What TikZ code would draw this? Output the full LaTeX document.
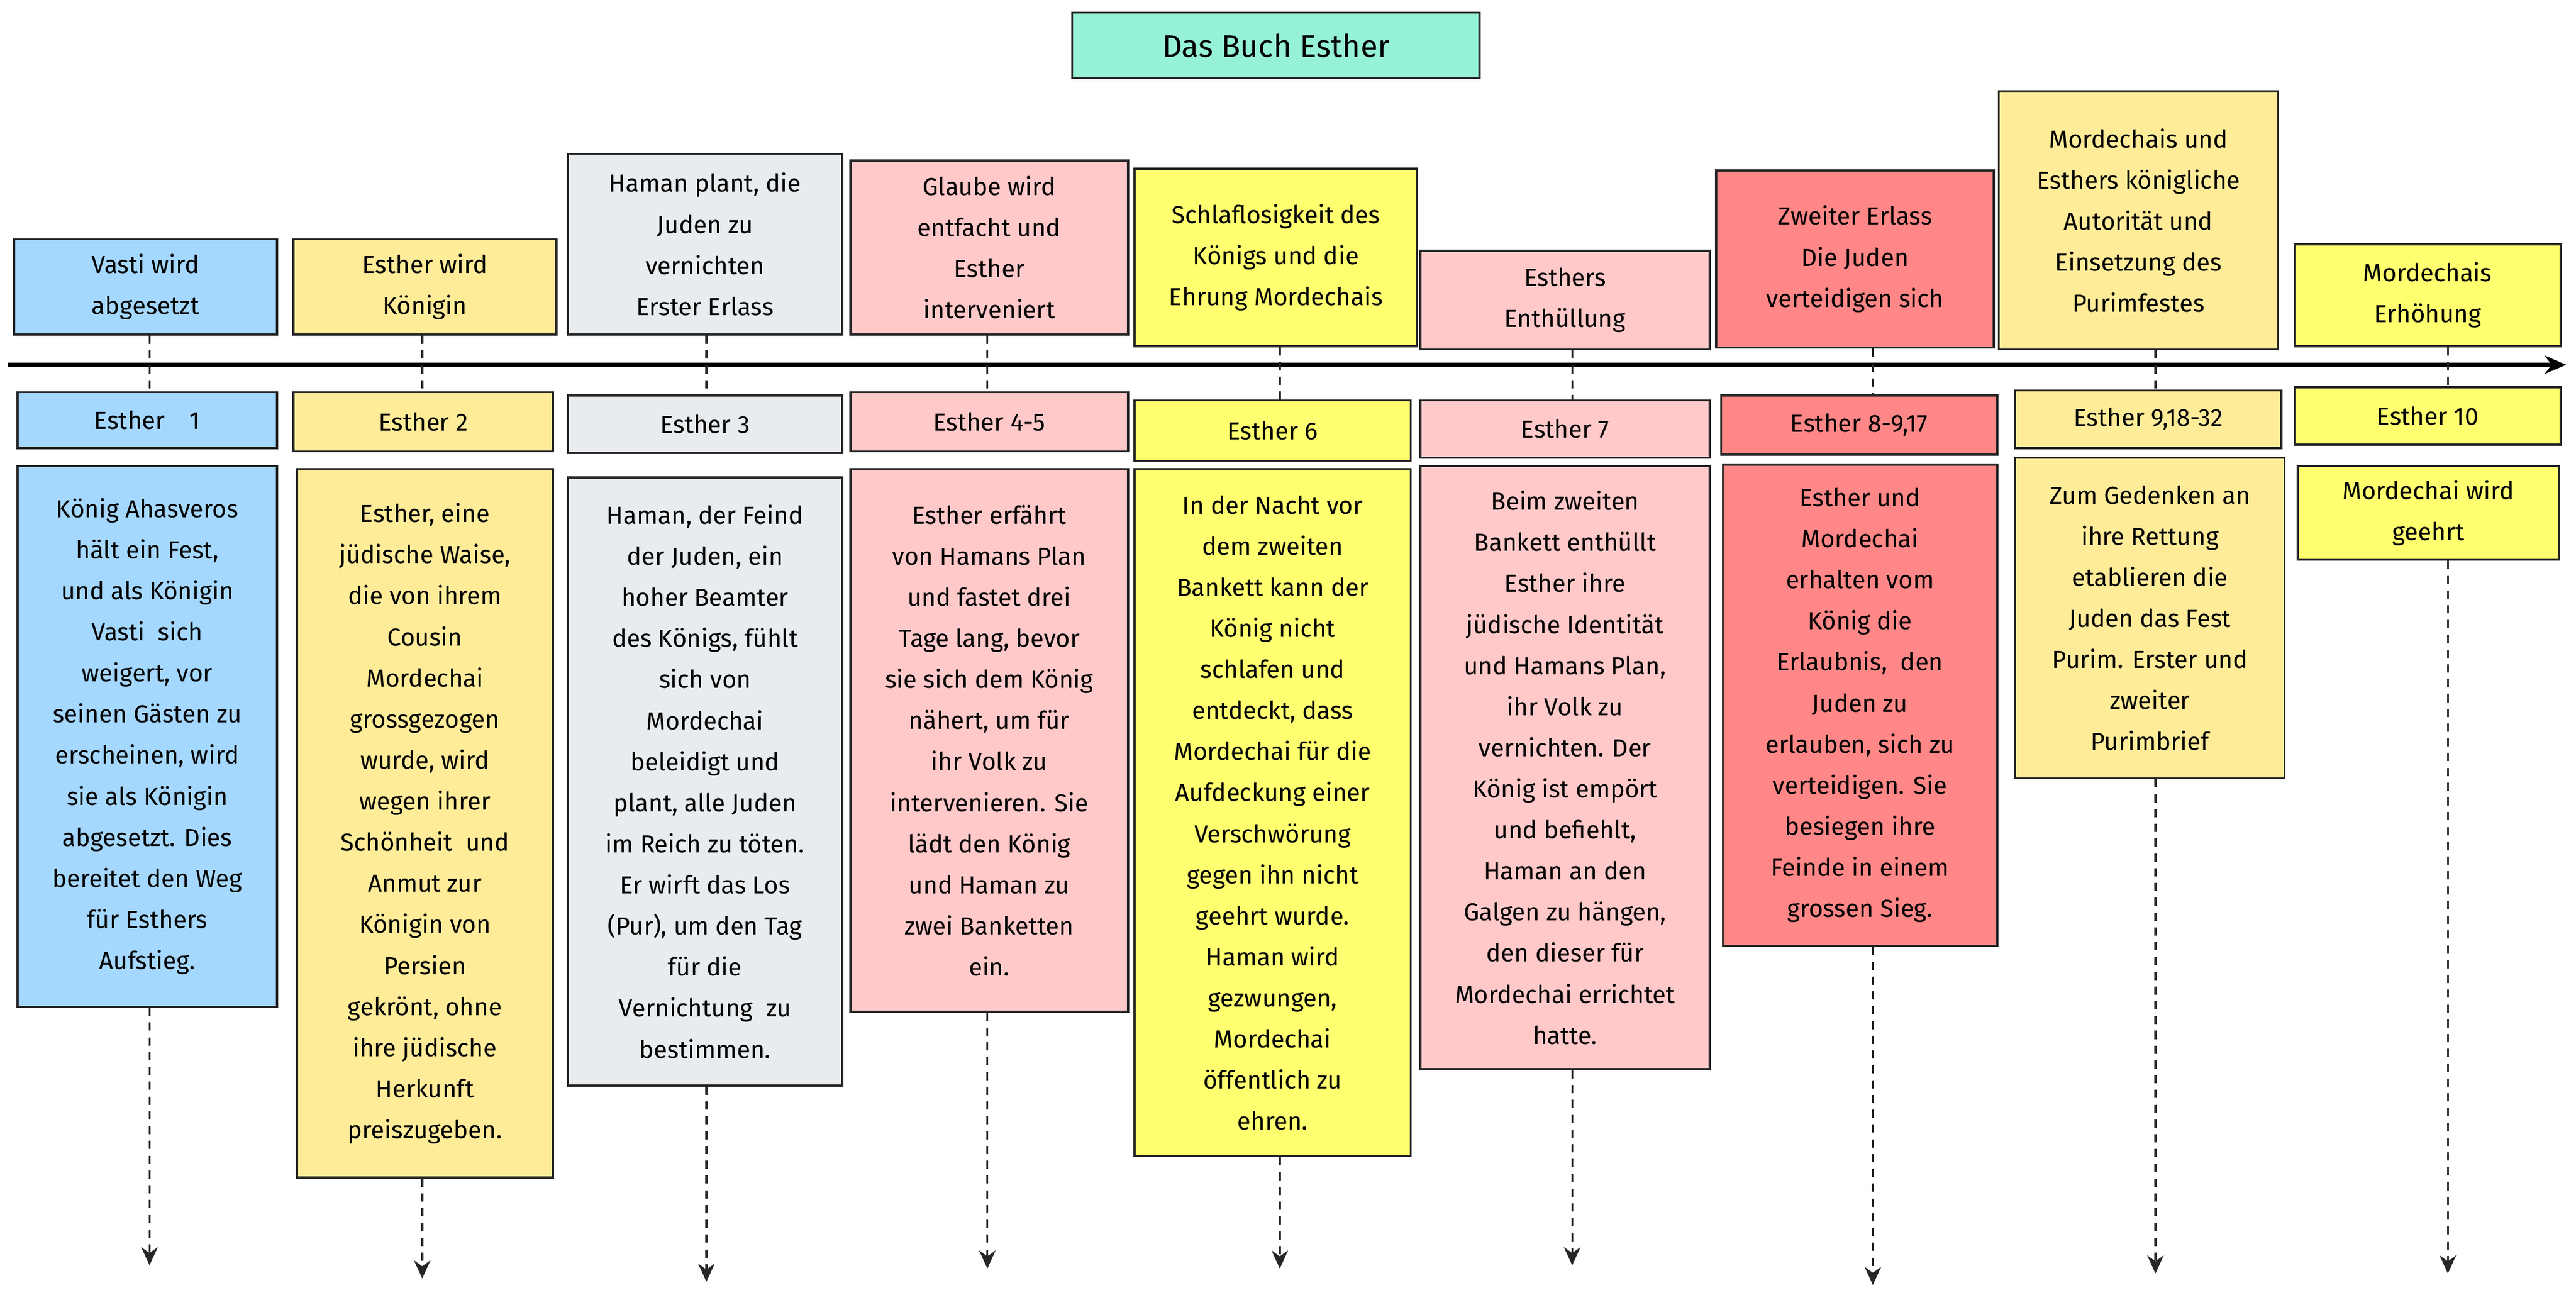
\documentclass[tikz,border=0pt]{standalone}
\usepackage{fontspec}
\setmainfont{Fira Sans}
\usetikzlibrary{arrows.meta}
\definecolor{cblue}{HTML}{A5D8FF}
\definecolor{cyel}{HTML}{FFEC99}
\definecolor{cgray}{HTML}{E9ECEF}
\definecolor{cpink}{HTML}{FFC9C9}
\definecolor{clem}{HTML}{FFFF70}
\definecolor{cred}{HTML}{FF8787}
\definecolor{cmint}{HTML}{96F2D7}
\tikzset{
 box/.style={draw=black!85,line width=1.3pt,align=center,inner sep=0pt,anchor=north west,font=\fontsize{15}{25}\selectfont},
 dline/.style={dash pattern=on 5pt off 4pt,line width=1.2pt,black!85},
 arr/.style={dline,-{Stealth[length=11pt,width=10pt]}}
}
\newcommand{\bx}[7]{\node[box,fill=#6,minimum width={(#4-#2)*1pt},minimum height={(#5-#3)*1pt}] (#1) at (#2,#3) {#7};}
\begin{document}
\begin{tikzpicture}[x=1pt,y=-1pt]
\useasboundingbox[fill=white] (0,0) rectangle (1568,791);
\bx{title}{652}{7}{900}{47}{cmint}{\fontsize{19}{22}\selectfont Das Buch Esther}
\coordinate (tl0) at (5,222); \coordinate (tl1) at (1562,222);
\draw[line width=2.5pt,-{Stealth[length=13pt,width=11pt]}] (tl0) -- (tl1);
% column 1
\bx{h1}{8}{145}{168}{203}{cblue}{Vasti wird\\abgesetzt}
\bx{c1}{10}{238}{168}{272}{cblue}{Esther\quad 1}
\bx{b1}{10}{283}{168}{612}{cblue}{König Ahasveros\\hält ein Fest,\\und als Königin\\Vasti\ \ sich\\weigert, vor\\seinen Gästen zu\\erscheinen, wird\\sie als Königin\\abgesetzt. Dies\\bereitet den Weg\\für Esthers\\Aufstieg.}
% column 2
\bx{h2}{178}{145}{338}{203}{cyel}{Esther wird\\Königin}
\bx{c2}{178}{238}{336}{274}{cyel}{Esther 2}
\bx{b2}{180}{285}{336}{716}{cyel}{Esther, eine\\jüdische Waise,\\die von ihrem\\Cousin\\Mordechai\\grossgezogen\\wurde, wird\\wegen ihrer\\Schönheit\ \ und\\Anmut zur\\Königin von\\Persien\\gekrönt, ohne\\ihre jüdische\\Herkunft\\preiszugeben.}
% column 3
\bx{h3}{345}{93}{512}{203}{cgray}{Haman plant, die\\Juden zu\\vernichten\\Erster Erlass}
\bx{c3}{345}{240}{512}{275}{cgray}{Esther 3}
\bx{b3}{345}{290}{512}{660}{cgray}{Haman, der Feind\\der Juden, ein\\hoher Beamter\\des Königs, fühlt\\sich von\\Mordechai\\beleidigt und\\plant, alle Juden\\im Reich zu töten.\\Er wirft das Los\\(Pur), um den Tag\\für die\\Vernichtung\ \ zu\\bestimmen.}
% column 4
\bx{h4}{517}{97}{686}{203}{cpink}{Glaube wird\\entfacht und\\Esther\\interveniert}
\bx{c4}{517}{238}{686}{274}{cpink}{Esther 4-5}
\bx{b4}{517}{285}{686}{615}{cpink}{Esther erfährt\\von Hamans Plan\\und fastet drei\\Tage lang, bevor\\sie sich dem König\\nähert, um für\\ihr Volk zu\\intervenieren. Sie\\lädt den König\\und Haman zu\\zwei Banketten\\ein.}
% column 5
\bx{h5}{690}{102}{862}{210}{clem}{Schlaflosigkeit des\\Königs und die\\Ehrung Mordechais}
\bx{c5}{690}{243}{858}{280}{clem}{Esther 6}
\bx{b5}{690}{285}{858}{703}{clem}{In der Nacht vor\\dem zweiten\\Bankett kann der\\König nicht\\schlafen und\\entdeckt, dass\\Mordechai für die\\Aufdeckung einer\\Verschwörung\\gegen ihn nicht\\geehrt wurde.\\Haman wird\\gezwungen,\\Mordechai\\öffentlich zu\\ehren.}
% column 6
\bx{h6}{864}{152}{1040}{212}{cpink}{Esthers\\Enthüllung}
\bx{c6}{864}{243}{1040}{278}{cpink}{Esther 7}
\bx{b6}{864}{283}{1040}{650}{cpink}{Beim zweiten\\Bankett enthüllt\\Esther ihre\\jüdische Identität\\und Hamans Plan,\\ihr Volk zu\\vernichten. Der\\König ist empört\\und befiehlt,\\Haman an den\\Galgen zu hängen,\\den dieser für\\Mordechai errichtet\\hatte.}
% column 7
\bx{h7}{1044}{103}{1213}{211}{cred}{Zweiter Erlass\\Die Juden\\verteidigen sich}
\bx{c7}{1047}{240}{1215}{276}{cred}{Esther 8-9,17}
\bx{b7}{1048}{282}{1215}{575}{cred}{Esther und\\Mordechai\\erhalten vom\\König die\\Erlaubnis,\ \ den\\Juden zu\\erlauben, sich zu\\verteidigen. Sie\\besiegen ihre\\Feinde in einem\\grossen Sieg.}
% column 8
\bx{h8}{1216}{55}{1386}{212}{cyel}{Mordechais und\\Esthers königliche\\Autorität und\\Einsetzung des\\Purimfestes}
\bx{c8}{1226}{237}{1388}{272}{cyel}{Esther 9,18-32}
\bx{b8}{1226}{278}{1390}{473}{cyel}{Zum Gedenken an\\ihre Rettung\\etablieren die\\Juden das Fest\\Purim. Erster und\\zweiter\\Purimbrief}
% column 9
\bx{h9}{1396}{148}{1558}{210}{clem}{Mordechais\\Erhöhung}
\bx{c9}{1396}{235}{1558}{270}{clem}{Esther 10}
\bx{b9}{1398}{283}{1557}{340}{clem}{Mordechai wird\\geehrt}
% connectors
\foreach \i/\x/\y in {1/91/770,2/257/778,3/430/780,4/601/772,5/779/772,6/957/770,7/1140/782,8/1312/775,9/1490/775}{
  \coordinate (e\i) at (\x,\y);
  \draw[dline] (h\i.south -| e\i) -- (c\i.north -| e\i);
  \draw[arr] (b\i.south -| e\i) -- (e\i);
}
\end{tikzpicture}
\end{document}
